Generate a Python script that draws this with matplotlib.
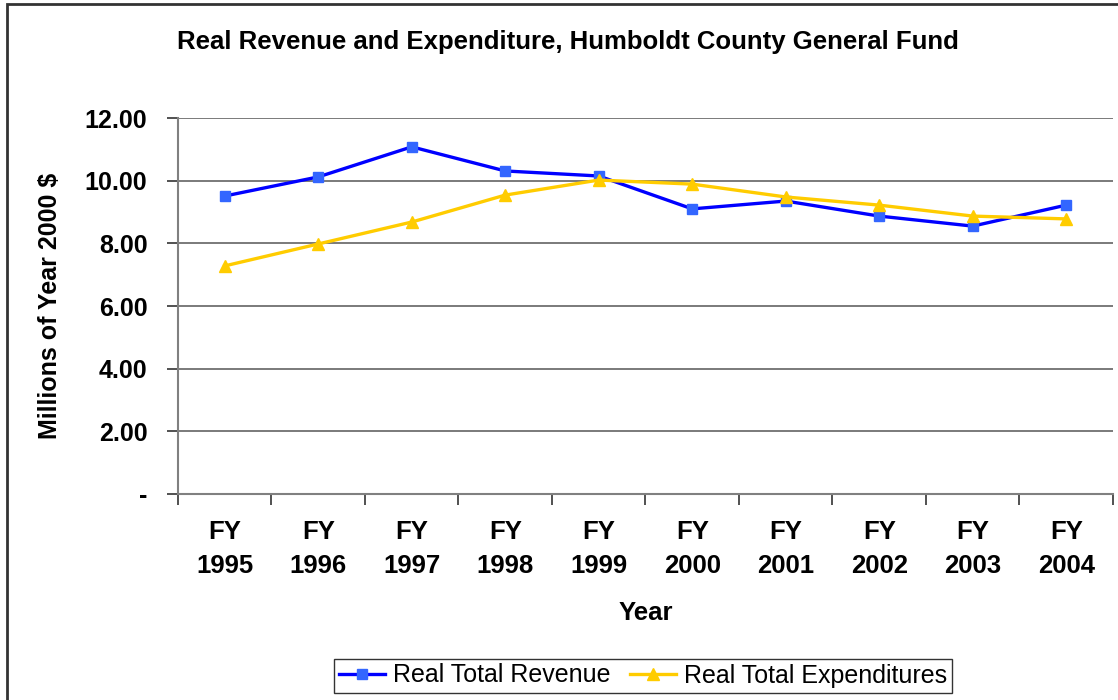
import matplotlib
matplotlib.use("Agg")
import matplotlib.pyplot as plt
from matplotlib.patches import Rectangle

plt.rcParams['font.family'] = ['Liberation Sans', 'DejaVu Sans']

YEARS = ["FY\n1995", "FY\n1996", "FY\n1997", "FY\n1998", "FY\n1999",
         "FY\n2000", "FY\n2001", "FY\n2002", "FY\n2003", "FY\n2004"]
REVENUE = [9.51, 10.12, 11.08, 10.31, 10.15, 9.10, 9.35, 8.87, 8.55, 9.22]
EXPEND = [7.28, 7.98, 8.68, 9.54, 10.02, 9.89, 9.48, 9.22, 8.87, 8.78]
Y_TICKS = [0, 2, 4, 6, 8, 10, 12]
Y_TICK_LABELS = ["-", "2.00", "4.00", "6.00", "8.00", "10.00", "12.00"]

fig = plt.figure(figsize=(11.18, 7.0), dpi=100)
ax = fig.add_axes([0.1592, 0.2943, 0.8363, 0.5371])

# chart-area border (Excel style, cut off at right/bottom)
fig.patches.append(Rectangle((7 / 1118, -0.05), 1.2, 1 - 4 / 700 + 0.05,
                             transform=fig.transFigure, fill=False,
                             edgecolor="#333333", linewidth=2.0))

x = list(range(len(YEARS)))
ax.plot(x, REVENUE, color="#0000FF", linewidth=2.4, marker="s", markersize=6.5,
        markerfacecolor="#3366FF", markeredgecolor="#3366FF", label="Real Total Revenue")
ax.plot(x, EXPEND, color="#FFCC00", linewidth=2.4, marker="^", markersize=8,
        markerfacecolor="#FFCC00", markeredgecolor="#FFCC00", label="Real Total Expenditures")

ax.set_xlim(-0.5, len(YEARS) - 0.5)
ax.set_ylim(0, 12)

ax.set_yticks(Y_TICKS)
ax.set_yticklabels(Y_TICK_LABELS, fontsize=18, fontweight="bold")
ax.yaxis.grid(True, color="#707070", linewidth=1.3)
ax.set_axisbelow(True)

# category boundaries as major ticks, labels on minor ticks
ax.set_xticks([i - 0.5 for i in range(len(YEARS) + 1)])
ax.set_xticklabels([])
ax.set_xticks(x, minor=True)
ax.set_xticklabels(YEARS, minor=True, fontsize=18.5, fontweight="bold", linespacing=1.5)
ax.tick_params(axis="x", which="minor", length=0, pad=19)
ax.tick_params(axis="x", which="major", length=8, width=1.2, color="#333333")
ax.tick_params(axis="y", length=8, width=1.2, color="#333333", pad=14)

for s in ["top", "right"]:
    ax.spines[s].set_visible(False)
ax.spines["left"].set_color("#808080")
ax.spines["left"].set_linewidth(1.5)
ax.spines["bottom"].set_color("#808080")
ax.spines["bottom"].set_linewidth(1.5)

ax.set_ylabel("Millions of Year 2000 $", fontsize=18, fontweight="bold")
ax.yaxis.set_label_coords(-0.124, 0.5)
ax.set_xlabel("Year", fontsize=18.5, fontweight="bold", va="center")
ax.xaxis.set_label_coords(0.5, -0.316)

fig.text(568 / 1118, 1 - 42 / 700, "Real Revenue and Expenditure, Humboldt County General Fund",
         ha="center", va="center", fontsize=18.5, fontweight="bold")

leg = fig.legend(loc="center", bbox_to_anchor=(643 / 1118, 1 - 675.5 / 700), ncol=2,
                 fontsize=18, frameon=True, fancybox=False, handlelength=1.85,
                 columnspacing=0.8, handletextpad=0.3, borderpad=0.2, borderaxespad=0)
leg.get_frame().set_edgecolor("#000000")
leg.get_frame().set_linewidth(1.0)

fig.savefig("out.png", dpi=100)
